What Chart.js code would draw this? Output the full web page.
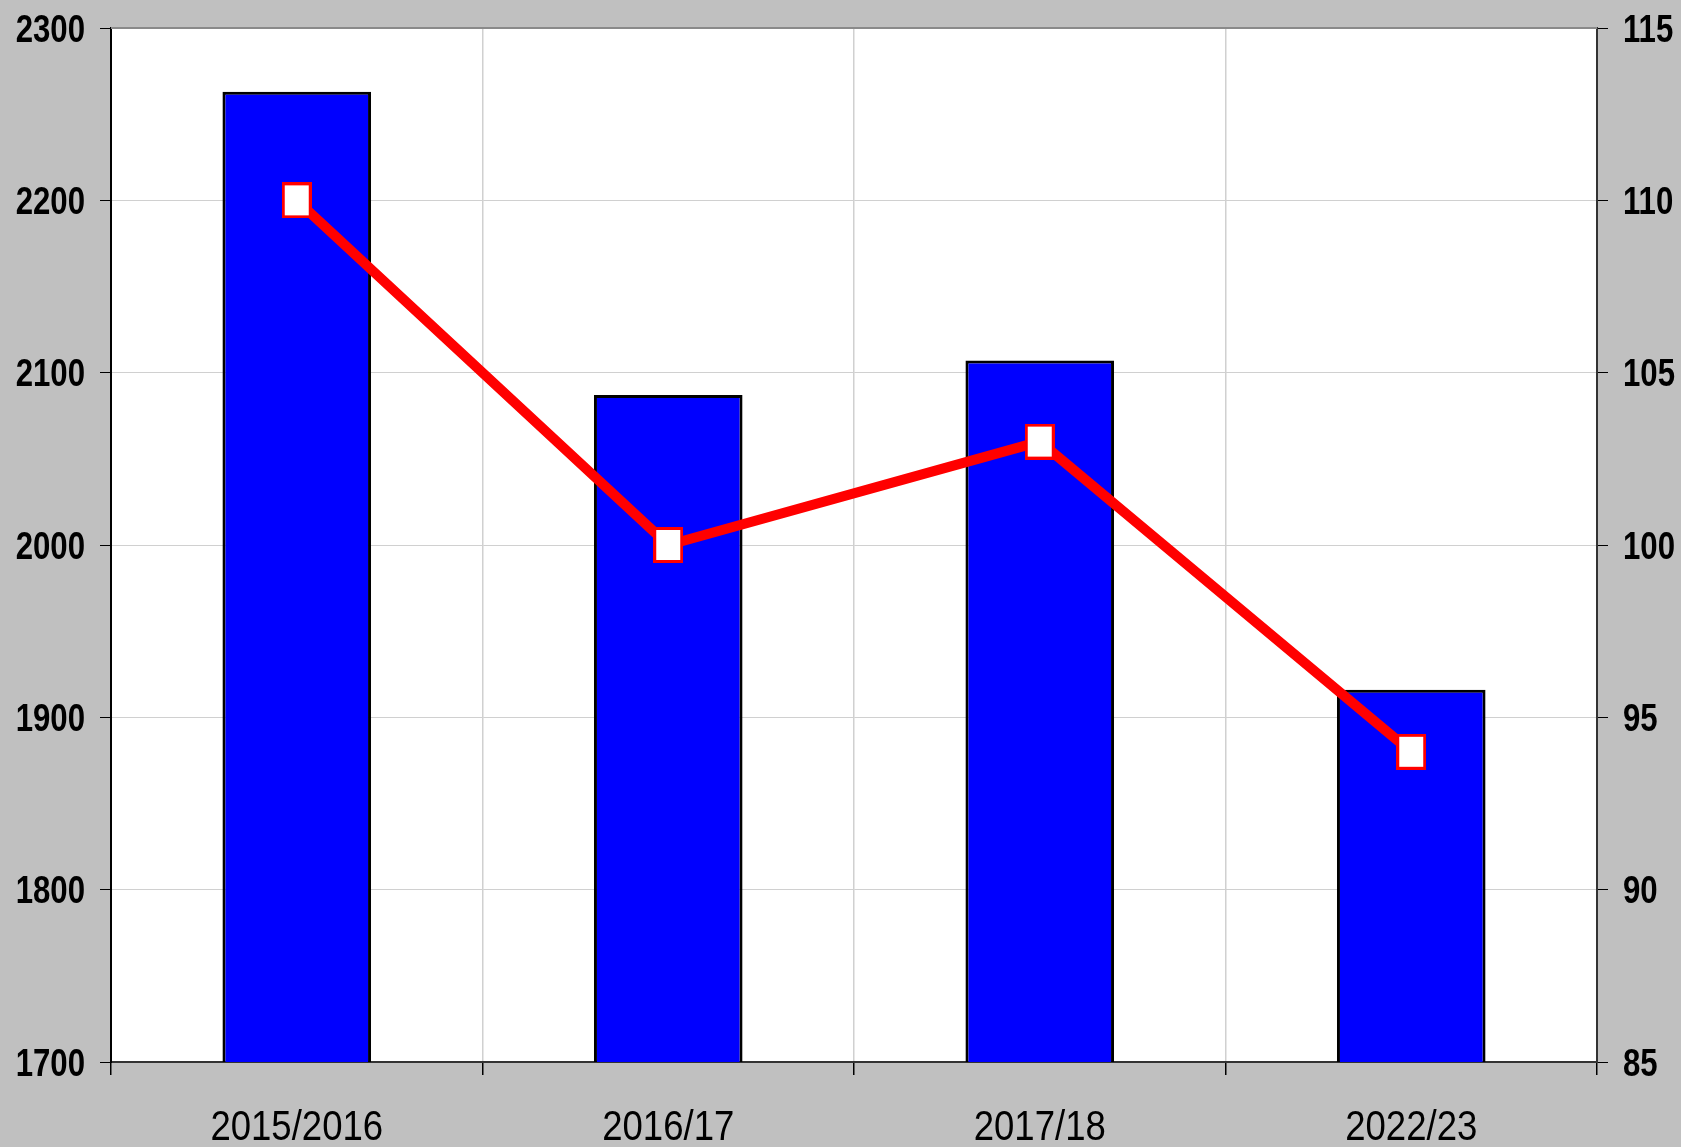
<!DOCTYPE html>
<html>
<head>
<meta charset="utf-8">
<script src="https://cdn.jsdelivr.net/npm/chart.js@4"></script>
<style>
    html, body { margin: 0; padding: 0; background: #c0c0c0; }
    #wrap { width: 1681px; height: 1147px; }
</style>
</head>
<body>
<div id="wrap"><canvas id="mainChart"></canvas></div>
<script>
// Data
const categories = ['2015/2016', '2016/17', '2017/18', '2022/23'];
const barValues = [2263, 2087, 2107, 1916];
const lineValues = [110, 100, 103, 94];
const leftTicks = [1700, 1800, 1900, 2000, 2100, 2200, 2300];
const rightTicks = [85, 90, 95, 100, 105, 110, 115];

const FONT = "'Liberation Sans', Arial, sans-serif";

// Square marker: white with red border
function makeMarker() {
    const c = document.createElement('canvas');
    c.width = 30;
    c.height = 36;
    const ctx = c.getContext('2d');
    ctx.fillStyle = '#ff0000';
    ctx.fillRect(0, 0, c.width, c.height);
    ctx.fillStyle = '#ffffff';
    ctx.fillRect(3, 3, c.width - 6, c.height - 6);
    return c;
}

// draw text squeezed horizontally (narrow face look)
function narrowText(ctx, text, x, y, align, squeeze) {
    ctx.save();
    ctx.translate(x, y);
    ctx.scale(squeeze, 1);
    ctx.textAlign = align;
    ctx.textBaseline = 'alphabetic';
    ctx.fillText(text, 0, 0);
    ctx.restore();
}

// Plot area background, frame and tick labels
const plotFrame = {
    id: 'plotFrame',
    beforeDraw(chart) {
        const a = chart.chartArea;
        const ctx = chart.ctx;
        ctx.save();
        ctx.fillStyle = '#ffffff';
        ctx.fillRect(a.left, a.top, a.right - a.left, a.bottom - a.top);
        ctx.restore();
    },
    afterDraw(chart) {
        const a = chart.chartArea;
        const ctx = chart.ctx;
        ctx.save();
        ctx.strokeStyle = '#8a8a8a';
        ctx.lineWidth = 2;
        ctx.beginPath();
        ctx.moveTo(a.left, a.top);
        ctx.lineTo(a.right, a.top);
        ctx.stroke();

        ctx.fillStyle = '#000000';
        const yl = chart.scales.y;
        const yr = chart.scales.y1;
        const xs = chart.scales.x;

        ctx.font = 'bold 38px ' + FONT;
        leftTicks.forEach(v => {
            narrowText(ctx, String(v), a.left - 26, yl.getPixelForValue(v) + 13.5, 'right', 0.82);
        });
        rightTicks.forEach(v => {
            narrowText(ctx, String(v), a.right + 26, yr.getPixelForValue(v) + 13.5, 'left', 0.82);
        });

        ctx.font = '42px ' + FONT;
        categories.forEach((c, i) => {
            narrowText(ctx, c, xs.getPixelForTick(i), 1140, 'center', 0.87);
        });
        ctx.restore();
    }
};

function zeroPad(scale) {
    scale.paddingTop = 0;
    scale.paddingBottom = 0;
    scale.paddingLeft = 0;
    scale.paddingRight = 0;
}

document.addEventListener('DOMContentLoaded', function() {
    const ctx = document.getElementById('mainChart').getContext('2d');
    new Chart(ctx, {
        type: 'bar',
        data: {
            labels: categories,
            datasets: [
                {
                    type: 'line',
                    data: lineValues,
                    yAxisID: 'y1',
                    borderColor: '#ff0000',
                    borderWidth: 10,
                    tension: 0,
                    pointStyle: makeMarker(),
                    order: 0
                },
                {
                    data: barValues,
                    yAxisID: 'y',
                    backgroundColor: '#0000ff',
                    borderColor: '#000000',
                    borderWidth: 3,
                    borderSkipped: false,
                    categoryPercentage: 1,
                    barPercentage: 0.4,
                    order: 1
                }
            ]
        },
        options: {
            responsive: true,
            maintainAspectRatio: false,
            animation: false,
            layout: { padding: { top: 28, left: 0, right: 0, bottom: 0 } },
            plugins: {
                legend: { display: false },
                tooltip: { enabled: false }
            },
            scales: {
                x: {
                    offset: true,
                    grid: {
                        offset: true,
                        color: '#d0d0d0',
                        tickColor: '#000000',
                        tickLength: 13,
                        lineWidth: 1.5
                    },
                    border: { color: '#333333', width: 2 },
                    ticks: { display: false },
                    afterFit: function(scale) { scale.height = 85; zeroPad(scale); }
                },
                y: {
                    position: 'left',
                    min: leftTicks[0],
                    max: leftTicks[leftTicks.length - 1],
                    afterBuildTicks: function(scale) {
                        scale.ticks = leftTicks.map(v => ({ value: v }));
                    },
                    grid: {
                        color: '#d0d0d0',
                        tickColor: '#000000',
                        tickLength: 11
                    },
                    border: { color: '#000000', width: 2 },
                    ticks: { display: false },
                    afterFit: function(scale) { scale.width = 111; zeroPad(scale); }
                },
                y1: {
                    position: 'right',
                    min: rightTicks[0],
                    max: rightTicks[rightTicks.length - 1],
                    afterBuildTicks: function(scale) {
                        scale.ticks = rightTicks.map(v => ({ value: v }));
                    },
                    grid: {
                        drawOnChartArea: false,
                        tickColor: '#000000',
                        tickLength: 11
                    },
                    border: { color: '#333333', width: 2 },
                    ticks: { display: false },
                    afterFit: function(scale) { scale.width = 84; zeroPad(scale); }
                }
            }
        },
        plugins: [plotFrame]
    });
});
</script>
</body>
</html>
